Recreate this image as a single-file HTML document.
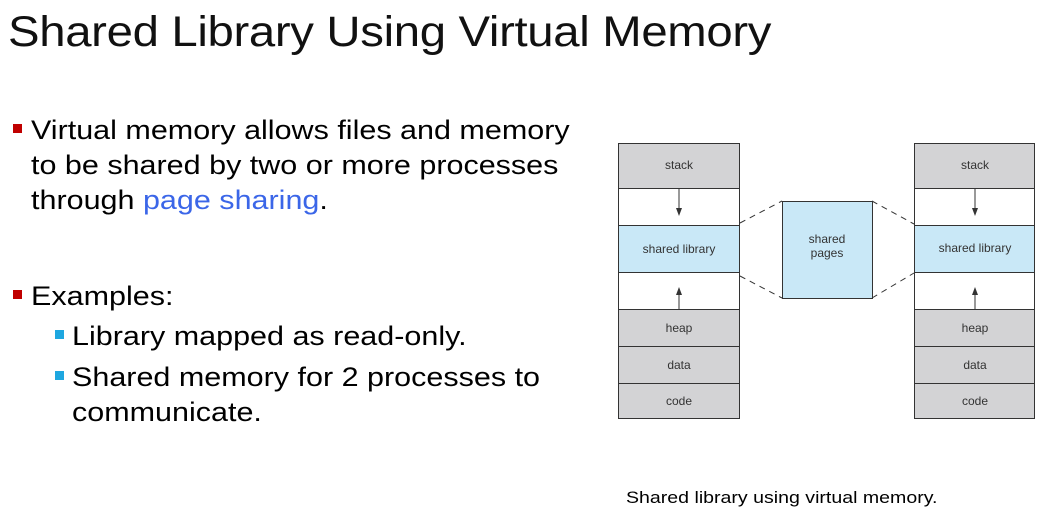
<!DOCTYPE html>
<html><head><style>
body{margin:0;width:1042px;height:514px;background:#fff;position:relative;font-family:"Liberation Sans",sans-serif;overflow:hidden}
.t{position:absolute;white-space:nowrap;color:#000;transform-origin:0 0}
.b{position:absolute;width:9px;height:9px}
</style></head><body>
<div class="t" style="left:8px;top:8px;font-size:43px;letter-spacing:-0.3px;transform:scaleX(1.1);color:#111">Shared Library Using Virtual Memory</div>
<div class="b" style="left:13px;top:124px;background:#c00000"></div>
<div class="t" style="left:31px;top:113px;font-size:27px;line-height:35px;transform:scaleX(1.13)">Virtual memory allows files and memory<br>to be shared by two or more processes<br>through <span style="color:#3b66e8">page sharing</span>.</div>
<div class="b" style="left:13px;top:290px;background:#c00000"></div>
<div class="t" style="left:31px;top:279px;font-size:27px;line-height:35px;transform:scaleX(1.13)">Examples:</div>
<div class="b" style="left:55px;top:330px;background:#1ea7e0"></div>
<div class="t" style="left:72px;top:319px;font-size:27px;line-height:35px;transform:scaleX(1.13)">Library mapped as read-only.</div>
<div class="b" style="left:55px;top:371px;background:#1ea7e0"></div>
<div class="t" style="left:72px;top:360px;font-size:27px;line-height:35px;transform:scaleX(1.13)">Shared memory for 2 processes to<br>communicate.</div>
<div class="t" style="left:626px;top:488px;font-size:17px;transform:scaleX(1.15)">Shared library using virtual memory.</div>
<svg width="1042" height="514" style="position:absolute;left:0;top:0" font-family="Liberation Sans,sans-serif" font-size="12" fill="#333">
<defs><marker id="a" markerWidth="8" markerHeight="8" refX="4" refY="4" orient="auto"><path d="M0,1 L8,4 L0,7z" fill="#333"/></marker></defs>
<g stroke="#333" stroke-width="1">
<rect x="618.5" y="143.5" width="121" height="45" fill="#d3d3d5"/>
<rect x="618.5" y="188.5" width="121" height="37" fill="#fff"/>
<rect x="618.5" y="225.5" width="121" height="47" fill="#c9e8f7"/>
<rect x="618.5" y="272.5" width="121" height="37" fill="#fff"/>
<rect x="618.5" y="309.5" width="121" height="37" fill="#d3d3d5"/>
<rect x="618.5" y="346.5" width="121" height="37" fill="#d3d3d5"/>
<rect x="618.5" y="383.5" width="121" height="35" fill="#d3d3d5"/>
<rect x="914.5" y="143.5" width="120" height="45" fill="#d3d3d5"/>
<rect x="914.5" y="188.5" width="120" height="37" fill="#fff"/>
<rect x="914.5" y="225.5" width="120" height="47" fill="#c9e8f7"/>
<rect x="914.5" y="272.5" width="120" height="37" fill="#fff"/>
<rect x="914.5" y="309.5" width="120" height="37" fill="#d3d3d5"/>
<rect x="914.5" y="346.5" width="120" height="37" fill="#d3d3d5"/>
<rect x="914.5" y="383.5" width="120" height="35" fill="#d3d3d5"/>
<rect x="782.5" y="201.5" width="90" height="97" fill="#c9e8f7"/>
<g stroke-dasharray="6,5">
<line x1="740" y1="223" x2="782" y2="201"/><line x1="740" y1="276" x2="782" y2="298"/>
<line x1="872" y1="201" x2="914" y2="224"/><line x1="872" y1="298" x2="914" y2="273"/>
</g>
<line x1="679" y1="189" x2="679" y2="212" marker-end="url(#a)"/>
<line x1="679" y1="309" x2="679" y2="291" marker-end="url(#a)"/>
<line x1="975" y1="189" x2="975" y2="212" marker-end="url(#a)"/>
<line x1="975" y1="309" x2="975" y2="291" marker-end="url(#a)"/>
</g>
<g text-anchor="middle" stroke="none">
<text x="679" y="169">stack</text><text x="679" y="253">shared library</text>
<text x="679" y="332">heap</text><text x="679" y="369">data</text><text x="679" y="405">code</text>
<text x="975" y="169">stack</text><text x="975" y="252">shared library</text>
<text x="975" y="332">heap</text><text x="975" y="369">data</text><text x="975" y="405">code</text>
<text x="827" y="243">shared</text><text x="827" y="257">pages</text>
</g>
</svg>
</body></html>
